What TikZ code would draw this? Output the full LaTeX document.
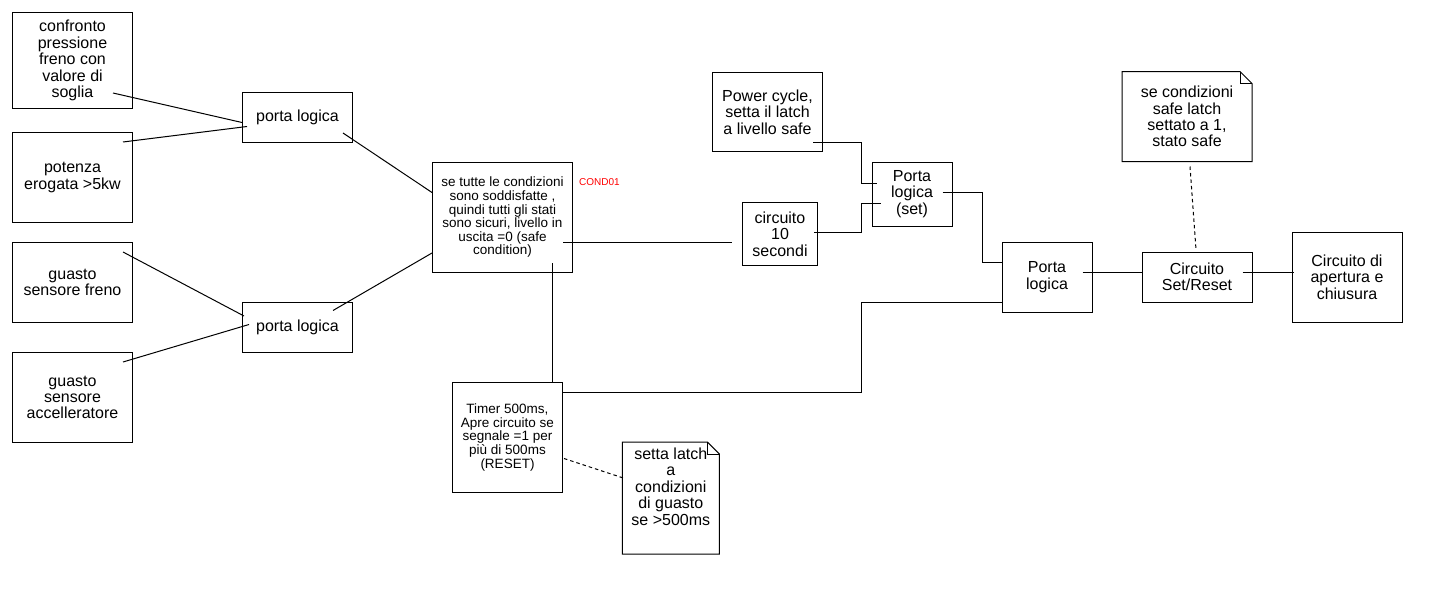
\documentclass[tikz,border=0pt]{standalone}
\usepackage{fontspec}
\setmainfont{Liberation Sans}
\usetikzlibrary{positioning,calc}
\definecolor{tagred}{RGB}{255,0,0}

\newcommand{\notefold}[1]{%
  \draw[wire] (#1.south west) -- (#1.north west) -- ([shift={(-12,0)}]#1.north east)
    -- ([shift={(0,12)}]#1.north east) -- (#1.south east) -- cycle;
  \draw[wire] ([shift={(-12,0)}]#1.north east) -- ++(0,12) -- ([shift={(0,12)}]#1.north east);}

\begin{document}
\begin{tikzpicture}[x=1pt,y=-1pt,
box/.style={draw,line width=1pt,fill=white,align=center,inner sep=2pt,
font=\fontsize{16}{16.4}\selectfont},
smallbox/.style={box,font=\fontsize{13.5}{13.6}\selectfont},
notebox/.style={box,draw=none},
wire/.style={line width=1pt},
dotwire/.style={wire,dash pattern=on 3.5pt off 3pt},
tag/.style={text=tagred,font=\fontsize{10}{10}\selectfont,inner sep=0pt}
]
\fill[white] (0,0) rectangle (1452,605);
\useasboundingbox (0,0) rectangle (1452,605);

\node[box,minimum width=120pt,minimum height=96pt] (conf) at (72.5,60.5)
  {confronto\\pressione\\freno con\\valore di\\soglia};
\node[box,minimum width=120pt,minimum height=90pt,below=23pt of conf] (pot)
  {potenza\\erogata >5kw};
\node[box,minimum width=120pt,minimum height=80pt,below=19pt of pot] (gfr)
  {guasto\\sensore freno};
\node[box,minimum width=120pt,minimum height=90pt,below=29pt of gfr] (gacc)
  {guasto\\sensore\\accelleratore};
\node[box,minimum width=110pt,minimum height=50pt] (plA) at (297.5,117.5) {porta logica};
\node[box,minimum width=110pt,minimum height=50pt] (plB) at (297.5,327.5) {porta logica};
\node[smallbox,minimum width=140pt,minimum height=110pt] (cond) at (502.5,217.5)
  {se tutte le condizioni\\sono soddisfatte ,\\quindi tutti gli stati\\sono sicuri, livello in\\uscita =0 (safe\\condition)};
\node[tag,anchor=west] (condtag) at ([shift={(6,20.5)}]cond.north east) {COND01};
\node[smallbox,minimum width=110pt,minimum height=110pt] (timer) at (507.5,437.5)
  {Timer 500ms,\\Apre circuito se\\segnale =1 per\\più di 500ms\\(RESET)};
\node[notebox,minimum width=96pt,minimum height=111pt,text depth=23pt] (noteA) at (670.8,498)
  {setta latch\\a\\condizioni\\di guasto\\se >500ms};
\node[box,minimum width=110pt,minimum height=79pt] (power) at (767.5,112)
  {Power cycle,\\setta il latch\\a livello safe};
\node[box,minimum width=75pt,minimum height=63pt] (circ) at (780,234)
  {circuito\\10\\secondi};
\node[box,minimum width=80pt,minimum height=64pt] (plset) at (912,194)
  {Porta\\logica\\(set)};
\node[box,minimum width=90pt,minimum height=70pt] (plout) at (1047,277)
  {Porta\\logica};
\node[box,minimum width=110pt,minimum height=50pt,right=49pt of plout] (sr)
  {Circuito\\Set/Reset};
\node[box,minimum width=110pt,minimum height=90pt,right=39pt of sr] (apch)
  {Circuito di\\apertura e\\chiusura};
\node[notebox,minimum width=129pt,minimum height=89pt] (noteB) at (1187,116.5)
  {se condizioni\\safe latch\\settato a 1,\\stato safe};
\notefold{noteA}
\notefold{noteB}

\coordinate (busx) at ([shift={(-10,0)}]plset.west);

\draw[wire] ([shift={(-20,-16)}]conf.south east) -- ([shift={(0,5)}]plA.west);
\draw[wire] ([shift={(-10,10)}]pot.north east) -- ([shift={(5,9)}]plA.west);
\draw[wire] ([shift={(-10,-10)}]plA.south east) -- ([shift={(0,-25)}]cond.west);
\draw[wire] ([shift={(-10,10)}]gfr.north east) -- ([shift={(2,-11.5)}]plB.west);
\draw[wire] ([shift={(-10,10)}]gacc.north east) -- ([shift={(7,-3)}]plB.west);
\draw[wire] ([shift={(-20,8.5)}]plB.north east) -- ([shift={(0,35.5)}]cond.west);
\draw[wire] ([shift={(-10,25)}]cond.east) -- ([shift={(-10,8.5)}]circ.west);
\draw[wire] ([shift={(50,-10)}]cond.south) -- ([shift={(45,0)}]timer.north);
\draw[wire] ([shift={(0,-45)}]timer.east) -| ([shift={(0,25)}]busx |- plout.west)
  -- ([shift={(0,25)}]plout.west);
\draw[wire] ([shift={(-10,-10)}]power.south east) -| ([shift={(0,-11)}]busx)
  -- ([shift={(5,-11)}]plset.west);
\draw[wire] ([shift={(-4,-2)}]circ.east) -| ([shift={(0,9)}]busx)
  -- ([shift={(9,9)}]plset.west);
\draw[wire] ([shift={(-10,-2)}]plset.east) -| ([shift={(-19,-15)}]plout.west)
  -- ([shift={(0,-15)}]plout.west);
\draw[wire] ([shift={(-10,-5)}]plout.east) -- ([shift={(0,-5)}]sr.west);
\draw[wire] ([shift={(-10,-5)}]sr.east) -- ([shift={(2,-5)}]apch.west);
\draw[dotwire] ([shift={(3,5)}]noteB.south) -- ([shift={(-1,-2)}]sr.north);
\draw[dotwire] ([shift={(1,21)}]timer.east) -- ([shift={(1,-20)}]noteA.west);
\end{tikzpicture}
\end{document}
